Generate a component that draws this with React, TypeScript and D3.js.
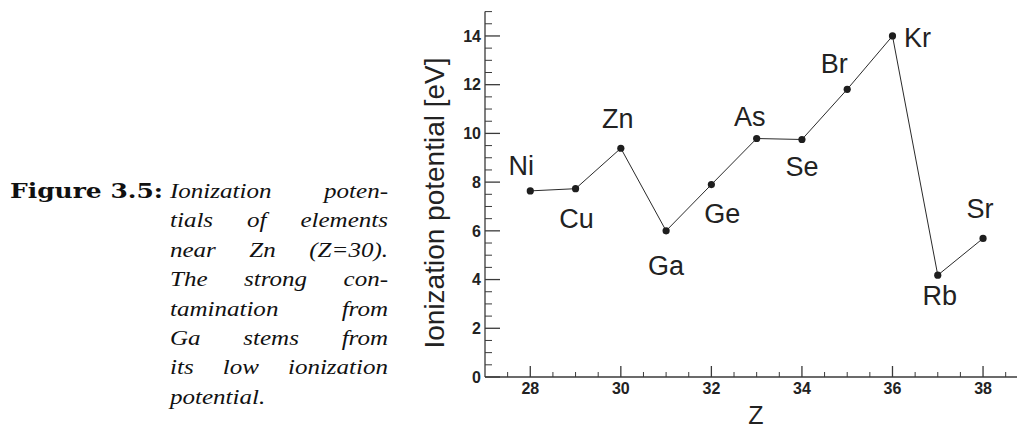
import React, { useEffect, useRef } from 'react';
import * as d3 from 'd3';

// atomic number, element, first ionization potential [eV]
const zValues = [28, 29, 30, 31, 32, 33, 34, 35, 36, 37, 38];
const elements = ['Ni', 'Cu', 'Zn', 'Ga', 'Ge', 'As', 'Se', 'Br', 'Kr', 'Rb', 'Sr'];
const potentials = [7.64, 7.73, 9.39, 6.0, 7.9, 9.79, 9.75, 11.81, 14.0, 4.18, 5.69];

const xTicks = [28, 30, 32, 34, 36, 38];
const yTicks = [0, 2, 4, 6, 8, 10, 12, 14];

const captionHead = 'Figure 3.5:';
const captionLines = [
  'Ionization poten-',
  'tials of elements',
  'near Zn (Z=30).',
  'The strong con-',
  'tamination from',
  'Ga stems from',
  'its low ionization',
  'potential.',
];

// where each element label sits relative to its point (px)
const labelOffsets: Record<string, [number, number]> = {
  Ni: [-9, -16],
  Cu: [1, 39],
  Zn: [-3, -20],
  Ga: [0, 44],
  Ge: [11, 38],
  As: [-7, -13],
  Se: [0, 37],
  Br: [-13, -16],
  Kr: [25, 11],
  Rb: [2, 30],
  Sr: [-3, -20],
};

const W = 1019;
const H = 430;

export default function App() {
  const ref = useRef<SVGSVGElement>(null);

  useEffect(() => {
    const svg = d3.select(ref.current);
    svg.selectAll('*').remove();

    const x = d3.scaleLinear().domain([27, 38.75]).range([485, 1017]);
    const y = d3.scaleLinear().domain([0, 15]).range([377, 11.6]);

    const axisColor = '#3a3a3a';
    const sans = 'Liberation Sans, Arial, sans-serif';

    // y axis
    const gy = svg.append('g');
    gy.append('line')
      .attr('x1', x(27)).attr('x2', x(27))
      .attr('y1', y(0)).attr('y2', y(15))
      .attr('stroke', axisColor).attr('stroke-width', 1.3);
    const yMinor = d3.range(0, 15.01, 0.5);
    gy.selectAll('line.tick')
      .data(yMinor)
      .enter()
      .append('line')
      .attr('class', 'tick')
      .attr('x1', x(27))
      .attr('x2', d => x(27) + (d % 2 === 0 ? 15 : 7))
      .attr('y1', d => y(d))
      .attr('y2', d => y(d))
      .attr('stroke', axisColor)
      .attr('stroke-width', d => (d % 2 === 0 ? 1.3 : 1));
    gy.selectAll('text')
      .data(yTicks)
      .enter()
      .append('text')
      .attr('x', 481)
      .attr('y', d => y(d))
      .attr('dy', '0.36em')
      .attr('text-anchor', 'end')
      .style('font-family', sans)
      .style('font-weight', 'bold')
      .style('font-size', '16px')
      .attr('fill', '#222')
      .text(d => d);

    // x axis
    const gx = svg.append('g');
    gx.append('line')
      .attr('x1', x(27)).attr('x2', x(38.75))
      .attr('y1', y(0)).attr('y2', y(0))
      .attr('stroke', axisColor).attr('stroke-width', 1.3);
    const xMinor = d3.range(27.5, 38.6, 0.5);
    gx.selectAll('line.tick')
      .data(xMinor)
      .enter()
      .append('line')
      .attr('class', 'tick')
      .attr('x1', d => x(d))
      .attr('x2', d => x(d))
      .attr('y1', y(0))
      .attr('y2', d => y(0) - (d % 2 === 0 ? 11 : 5))
      .attr('stroke', axisColor)
      .attr('stroke-width', d => (d % 2 === 0 ? 1.3 : 1));
    gx.selectAll('text')
      .data(xTicks)
      .enter()
      .append('text')
      .attr('x', d => x(d))
      .attr('y', 394)
      .attr('text-anchor', 'middle')
      .style('font-family', sans)
      .style('font-weight', 'bold')
      .style('font-size', '16px')
      .attr('fill', '#222')
      .text(d => d);

    // axis titles
    svg.append('text')
      .attr('x', 756)
      .attr('y', 424)
      .attr('text-anchor', 'middle')
      .style('font-family', sans)
      .style('font-size', '25px')
      .attr('fill', '#222')
      .text('Z');
    svg.append('text')
      .attr('transform', 'translate(444, 203) rotate(-90)')
      .attr('text-anchor', 'middle')
      .style('font-family', sans)
      .style('font-size', '28px')
      .attr('fill', '#222')
      .text('Ionization potential [eV]');

    // data
    const data = zValues.map((z, i) => ({ z, el: elements[i], v: potentials[i] }));
    const line = d3.line<{ z: number; v: number }>().x(d => x(d.z)).y(d => y(d.v));
    svg.append('path')
      .attr('d', line(data))
      .attr('fill', 'none')
      .attr('stroke', '#2a2a2a')
      .attr('stroke-width', 1);
    svg.selectAll('circle')
      .data(data)
      .enter()
      .append('circle')
      .attr('cx', d => x(d.z))
      .attr('cy', d => y(d.v))
      .attr('r', 3.6)
      .attr('fill', '#1e1e1e');
    svg.selectAll('text.el')
      .data(data)
      .enter()
      .append('text')
      .attr('class', 'el')
      .attr('x', d => x(d.z) + labelOffsets[d.el][0])
      .attr('y', d => y(d.v) + labelOffsets[d.el][1])
      .attr('text-anchor', 'middle')
      .style('font-family', sans)
      .style('font-size', '27px')
      .attr('fill', '#222')
      .text(d => d.el);

    // caption
    svg.append('text')
      .attr('x', 10)
      .attr('y', 198)
      .attr('textLength', 153)
      .attr('lengthAdjust', 'spacingAndGlyphs')
      .style('font-family', 'DejaVu Serif, serif')
      .style('font-weight', 'bold')
      .style('font-size', '20px')
      .attr('fill', '#111')
      .text(captionHead);

    const serif = 'Liberation Serif, Times New Roman, serif';
    const stretch = 1.22;
    const left = 170;
    const right = 388;
    captionLines.forEach((ln, i) => {
      const words = ln.split(' ');
      const yy = 198 + i * 29.4;
      const nodes = words.map(w =>
        svg.append('text')
          .attr('y', yy)
          .style('font-family', serif)
          .style('font-style', 'italic')
          .style('font-size', '20.5px')
          .attr('fill', '#111')
          .text(w)
      );
      const widths = nodes.map(n => (n.node() as SVGTextElement).getComputedTextLength() * stretch);
      nodes.forEach((n, k) => n.attr('textLength', widths[k]).attr('lengthAdjust', 'spacingAndGlyphs'));
      const total = d3.sum(widths);
      const last = i === captionLines.length - 1;
      const gap = last || words.length < 2 ? 6 : (right - left - total) / (words.length - 1);
      let cx = left;
      nodes.forEach((n, k) => {
        n.attr('x', cx);
        cx += widths[k] + gap;
      });
    });
  }, []);

  return (
    <svg
      ref={ref}
      width={W}
      height={H}
      style={{ position: 'absolute', left: 0, top: 0, background: '#fff' }}
    />
  );
}
